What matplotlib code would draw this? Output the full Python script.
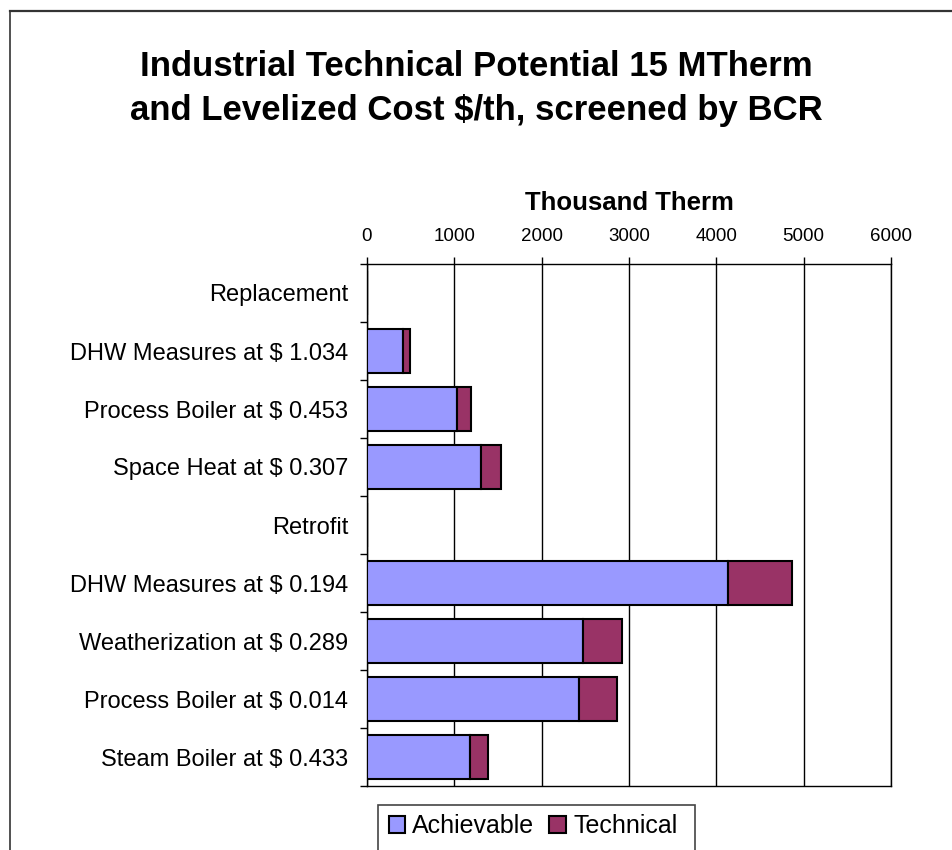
import matplotlib
matplotlib.use("Agg")
import matplotlib.pyplot as plt
from matplotlib.lines import Line2D
from matplotlib.patches import Rectangle, Patch
import numpy as np

plt.rcParams['font.family'] = ['Liberation Sans', 'DejaVu Sans']
plt.rcParams['text.parse_math'] = False

categories = ["Replacement", "DHW Measures at $ 1.034", "Process Boiler at $ 0.453",
              "Space Heat at $ 0.307", "Retrofit", "DHW Measures at $ 0.194",
              "Weatherization at $ 0.289", "Process Boiler at $ 0.014",
              "Steam Boiler at $ 0.433"]
achievable = [0, 417, 1027, 1304, 0, 4130, 2476, 2432, 1175]
technical = [0, 73, 169, 229, 0, 738, 442, 425, 213]
xticks = [0, 1000, 2000, 3000, 4000, 5000, 6000]

W, H = 952, 850
fig = plt.figure(figsize=(W / 100, H / 100), dpi=100)

def fx(px):
    return px / W

def fy(py):
    return 1 - py / H

left, right, top, bottom = 367, 891, 264, 786
ax = fig.add_axes([fx(left), fy(bottom), (right - left) / W, (bottom - top) / H])

y = np.arange(len(categories))
ax.barh(y, achievable, height=0.76, color='#9999FF', edgecolor='black', linewidth=1.5,
        label='Achievable', zorder=3)
ax.barh(y, technical, left=achievable, height=0.76, color='#993366', edgecolor='black',
        linewidth=1.5, label='Technical', zorder=3)

ax.set_xlim(0, 6000)
ax.set_ylim(len(categories) - 0.5, -0.5)
ax.set_xticks(xticks)
ax.xaxis.tick_top()
ax.xaxis.set_label_position('top')
ax.tick_params(axis='x', which='major', top=True, bottom=False, labeltop=True,
               labelbottom=False, direction='out', length=5, width=1,
               labelsize=13.5, pad=9)
ax.grid(axis='x', color='black', linewidth=1, zorder=0)
ax.set_xlabel('Thousand Therm', fontsize=18.5, fontweight='bold', labelpad=13)

ax.set_yticks(y)
ax.set_yticklabels(categories, fontsize=17)
ax.tick_params(axis='y', which='major', length=0, pad=13.5)
ax.set_yticks(np.arange(-0.5, len(categories), 1.0), minor=True)
ax.tick_params(axis='y', which='minor', length=5, width=1, direction='out')
for s in ax.spines.values():
    s.set_color('black')
    s.set_linewidth(1)

fig.text(0.5, fy(50), "Industrial Technical Potential 15 MTherm\nand Levelized Cost $/th, screened by BCR",
         ha='center', va='top', fontsize=25, fontweight='bold', linespacing=1.44)

# legend
handles = [Patch(facecolor='#9999FF', edgecolor='black', linewidth=1.5),
           Patch(facecolor='#993366', edgecolor='black', linewidth=1.5)]
leg = fig.legend(handles, ['Achievable', 'Technical'], loc='center',
                 bbox_to_anchor=(fx(533), fy(826)), ncol=2, frameon=False,
                 fontsize=18, handlelength=0.65, handleheight=0.65,
                 handletextpad=0.3, columnspacing=0.6)
fig.add_artist(Rectangle((fx(378), fy(870)), (695 - 378) / W, (870 - 805) / H,
                         transform=fig.transFigure, fill=False, edgecolor='#444444',
                         linewidth=1.2))

# figure border (top and left visible)
fig.add_artist(Line2D([fx(9.5), 1.0], [fy(10.5), fy(10.5)], transform=fig.transFigure,
                      color='#333333', linewidth=1.6))
fig.add_artist(Line2D([fx(9.5), fx(9.5)], [fy(10.5), 0.0], transform=fig.transFigure,
                      color='#333333', linewidth=1.2))

fig.savefig('out.png', dpi=100)
